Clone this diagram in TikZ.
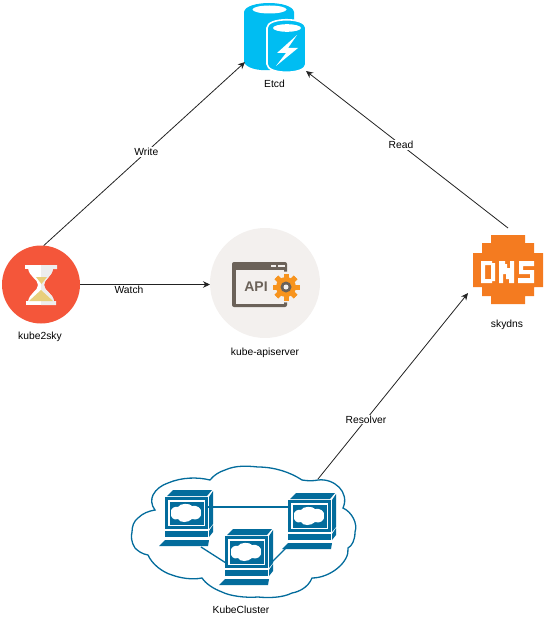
\documentclass[tikz,border=0pt]{standalone}
\usepackage{fontspec}
\setmainfont{Liberation Sans}
\usetikzlibrary{arrows.meta}
\definecolor{etcdblue}{HTML}{00BDF2}
\definecolor{redc}{HTML}{F4563A}
\definecolor{sand}{HTML}{E8CF7C}
\definecolor{apibg}{HTML}{F3F0EE}
\definecolor{apibrown}{HTML}{6B6259}
\definecolor{gear}{HTML}{F7941E}
\definecolor{dnsor}{HTML}{F47B20}
\definecolor{ciscob}{HTML}{036C9C}
\definecolor{linec}{HTML}{222222}
\tikzset{
  x=1pt,y=-1pt,
  lbl/.style={font=\fontsize{10.3}{12}\selectfont,text=black,inner sep=1pt},
  edgelbl/.style={lbl,fill=white},
  conn/.style={draw=linec,line width=.8pt,-{Stealth[length=7pt,width=6.5pt]}},
  anchorbox/.style={inner sep=0,outer sep=0,draw=none},
  cloudline/.style={ciscob,line width=1.3pt},
}
\newcommand{\pcsym}[2]{%
\begin{scope}[shift={(#1,#2)}]
 \fill[ciscob] (2,-1) -- (8,-7) -- (47,-7) -- (42,-1) -- cycle;
 \fill[ciscob] (44,0) -- (48,-6) -- (48,27) -- (44,32) -- cycle;
 \fill[ciscob] (44,34) -- (48,28) -- (48,35) -- (44,40) -- cycle;
 \fill[ciscob] (0,0) rectangle (43,32);
 \fill[white] (3,3) rectangle (40,29);
 \fill[ciscob] (4.5,4.5) rectangle (38.5,27.5);
 \fill[white] (6,16) .. controls (5,11) and (10,9) .. (13,10) .. controls (15,6) and (25,6) .. (27,9)
   .. controls (32,8) and (37,11) .. (36,16) .. controls (37,20) and (32,24) .. (27,22)
   .. controls (23,26) and (15,26) .. (13,22) .. controls (9,24) and (5,20) .. (6,16) -- cycle;
 \fill[ciscob] (0,34) rectangle (43,40);
 \fill[ciscob] (-6,49) -- (0,43) -- (44,43) -- (43,49) -- cycle;
\end{scope}}
\begin{document}
\begin{tikzpicture}
\useasboundingbox (0,0) rectangle (550,618);
% ---- named nodes
\node[anchorbox,minimum width=61pt,minimum height=69pt] (etcd) at (275.5,36.5) {};
\node[circle,fill=redc,minimum size=78pt,inner sep=0,outer sep=0] (k2s) at (41,284.5) {};
\node[circle,fill=apibg,minimum size=110pt,inner sep=0,outer sep=0] (api) at (265,283) {};
\node[anchorbox,minimum width=80pt,minimum height=84pt] (dns) at (508,270) {};
\node[anchorbox,minimum width=150pt,minimum height=104pt] (cluster) at (243,531) {};

% ---- etcd icon
\fill[etcdblue] (244,12) .. controls (246,0) and (292,0) .. (294,12) -- (294,62) -- (270,70)
  .. controls (258,71) and (246,68) .. (244,62) -- cycle;
\fill[white] (269.5,9.5) ellipse (17 and 4);
\filldraw[etcdblue,draw=white,line width=1.6pt] (267,28) .. controls (267,17) and (306,17) .. (306,28) -- (306,64)
  .. controls (306,75) and (267,75) .. (267,64) -- cycle;
\fill[white] (287,28) ellipse (14 and 3.8);
\fill[white] (297,35) -- (277,53) -- (286,53) -- (276,66) -- (298,48) -- (288,48) -- cycle;

% ---- hourglass
\fill[white] (25,265) rectangle (57,269);
\fill[white] (26,301) rectangle (56,305);
\fill[white] (28,268) -- (53,268) .. controls (52,277) and (44,279) .. (44,285)
  .. controls (44,291) and (53,293) .. (54,302) -- (28,302) .. controls (29,293) and (38,291) .. (38,285)
  .. controls (38,279) and (29,277) .. (28,268) -- cycle;
\fill[black!7] (41,265) -- (57,265) -- (57,269) -- (53,269) .. controls (52,277) and (44,279) .. (44,285)
  .. controls (44,291) and (53,293) .. (54,301) -- (56,301) -- (56,305) -- (41,305) -- cycle;
\fill[sand] (36,277) -- (47,277) -- (41.5,284) -- cycle;
\fill[sand] (41,290) -- (53,301) -- (29,301) -- cycle;

% ---- API icon
\fill[apibrown,rounded corners=2pt] (232,262) rectangle (287,307);
\fill[apibg] (235.5,270) rectangle (283.5,303.5);
\fill[apibg] (271,265) rectangle (285,267);
\fill[apibrown] (276,265) rectangle (277.5,267);
\node[font=\fontsize{14}{16}\bfseries\selectfont,text=apibrown,inner sep=0] (apitxt) at (256,287) {API};
\fill[apibg] (286,287) circle (15.5);
\foreach \a in {0,45,...,315}{\fill[gear,rotate around={\a:(286,287)}] (283.5,273.5) rectangle (288.5,300.5);}
\fill[gear] (286,287) circle (10);
\fill[apibrown] (286,287) circle (5.5);
\fill[apibg] (286,287) circle (2.5);

% ---- DNS icon
\fill[dnsor] (491,235) -- (525,235) -- (525,243) -- (534,243) -- (534,253) -- (543,253) -- (543,287)
  -- (534,287) -- (534,296) -- (525,296) -- (525,304) -- (491,304) -- (491,296) -- (482,296) -- (482,287)
  -- (473,287) -- (473,253) -- (482,253) -- (482,243) -- (491,243) -- cycle;
\fill[white,even odd rule] (481,261) -- (492,261) -- (492,263) -- (495,263) -- (495,281) -- (492,281) -- (492,283) -- (481,283) -- cycle
  (485,265) rectangle (491,279);
\fill[white] (499,261) -- (505,261) -- (505,264) -- (507,264) -- (507,268) -- (510,268) -- (510,261) -- (514,261)
  -- (514,283) -- (509,283) -- (509,279) -- (506,279) -- (506,274) -- (503,274) -- (503,283) -- (499,283) -- cycle;
\fill[white] (519,261) -- (534,261) -- (534,266) -- (523,266) -- (523,270) -- (534,270) -- (534,283) -- (518,283)
  -- (518,278) -- (530,278) -- (530,274) -- (519,274) -- cycle;

% ---- cluster cloud
\draw[cloudline,fill=white]
 (318,480) .. controls (334,478) and (350,492) .. (343,508)
 .. controls (352,512) and (358,524) .. (355,532)
 .. controls (355,540) and (352,546) .. (348,548)
 .. controls (350,562) and (330,578) .. (312,578)
 .. controls (308,588) and (298,592) .. (292,593)
 .. controls (282,598) and (268,598) .. (258,597)
 .. controls (245,598) and (230,596) .. (222,592)
 .. controls (214,589) and (206,584) .. (202,578)
 .. controls (192,580) and (180,578) .. (172,575)
 .. controls (162,572) and (152,564) .. (148,555)
 .. controls (142,554) and (138,551) .. (135,548)
 .. controls (131,542) and (131,536) .. (132,532)
 .. controls (132,526) and (134,521) .. (138,518)
 .. controls (143,513) and (149,511) .. (155,510)
 .. controls (151,505) and (151,499) .. (153,495)
 .. controls (156,489) and (162,485) .. (168,483)
 .. controls (182,477) and (198,477) .. (210,480)
 .. controls (214,475) and (219,472) .. (225,470)
 .. controls (236,465) and (248,466) .. (258,467)
 .. controls (274,467) and (290,472) .. (302,480)
 .. controls (308,481) and (313,481) .. (318,480) -- cycle;
\draw[cloudline] (205,507) -- (290,507);
\draw[cloudline] (201,547) -- (226,563);
\draw[cloudline] (272,562) -- (286,548);
\pcsym{165}{497}
\pcsym{288}{500}
\pcsym{225}{536}

% ---- labels
\node[lbl] (etcdl) at (274.5,84) {Etcd};
\node[lbl] (k2sl) at (40,337) {kube2sky};
\node[lbl] (apil) at (265,352.5) {kube-apiserver};
\node[lbl] (dnsl) at (507,324.5) {skydns};
\node[lbl] (clul) at (241,610) {KubeCluster};

% ---- connectors
\draw[conn] (k2s.86) -- node[edgelbl,pos=.51] {Write} (etcd.220);
\draw[conn] (k2s.east) -- (k2s.east -| api.west);
\node[edgelbl] (watchl) at (129,289.5) {Watch};
\draw[conn] (dns.north) -- node[edgelbl,pos=.53] {Read} (etcd.south east);
\draw[conn] (cluster.north east) -- node[edgelbl,pos=.32] {Resolver} (dns.210);
\end{tikzpicture}
\end{document}
